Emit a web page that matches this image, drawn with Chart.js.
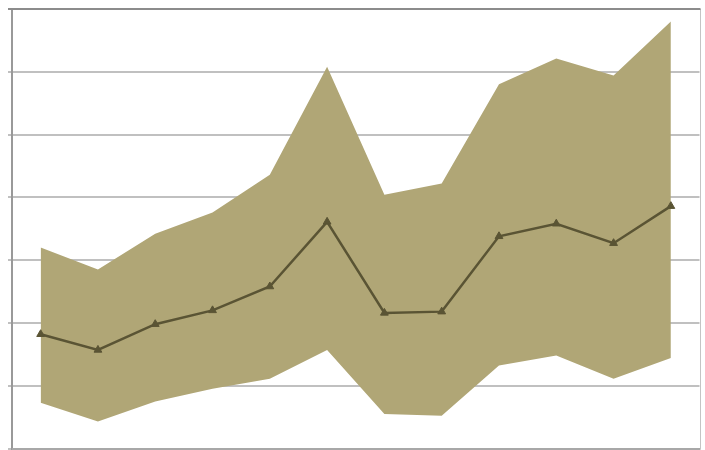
<!DOCTYPE html>
<html>
<head>
<meta charset="utf-8">
<script src="https://cdn.jsdelivr.net/npm/chart.js@4/dist/chart.umd.min.js"></script>
<style>
html,body{margin:0;padding:0;background:#fff;overflow:hidden;}
#wrap{width:705px;height:454px;position:relative;}
</style>
</head>
<body>
<div id="wrap"><canvas id="c"></canvas></div>
<script>
const categories = ["1","2","3","4","5","6","7","8","9","10","11","12"];
const upperValues = [3.20, 2.85, 3.42, 3.76, 4.36, 6.08, 4.04, 4.22, 5.80, 6.21, 5.94, 6.80];
const middleValues = [1.82, 1.57, 1.98, 2.20, 2.58, 3.61, 2.16, 2.18, 3.38, 3.58, 3.27, 3.86];
const lowerValues = [0.73, 0.43, 0.75, 0.95, 1.11, 1.57, 0.55, 0.52, 1.32, 1.48, 1.11, 1.44];

const frame = {
  id: 'frame',
  afterDraw(chart) {
    const a = chart.chartArea, ctx = chart.ctx;
    ctx.save();
    ctx.lineWidth = 1;
    ctx.strokeStyle = '#c4c4c4';
    ctx.beginPath();
    ctx.moveTo(Math.round(a.right) + 0.5, a.top);
    ctx.lineTo(Math.round(a.right) + 0.5, a.bottom);
    ctx.stroke();
    ctx.strokeStyle = '#8c8c8c';
    ctx.lineWidth = 2;
    ctx.beginPath();
    ctx.moveTo(a.left - 4, Math.round(a.top));
    ctx.lineTo(a.right + 1, Math.round(a.top));
    ctx.stroke();
    ctx.strokeStyle = '#a8a8a8';
    ctx.beginPath();
    ctx.moveTo(a.left, Math.round(a.bottom));
    ctx.lineTo(a.right + 1, Math.round(a.bottom));
    ctx.stroke();
    ctx.restore();
  }
};

new Chart(document.getElementById('c'), {
  type: 'line',
  data: {
    labels: categories,
    datasets: [
      {
        label: 'Middle',
        data: middleValues,
        borderColor: '#5a5434',
        backgroundColor: '#5a5434',
        borderWidth: 2.5,
        pointStyle: 'triangle',
        pointRadius: 4.5,
        pointBorderWidth: 1,
        tension: 0,
        fill: false,
        order: 0
      },
      {
        label: 'Upper',
        data: upperValues,
        borderWidth: 0,
        borderColor: 'rgba(0,0,0,0)',
        backgroundColor: '#b0a676',
        pointRadius: 0,
        tension: 0,
        fill: '+1',
        order: 1
      },
      {
        label: 'Lower',
        data: lowerValues,
        borderWidth: 0,
        borderColor: 'rgba(0,0,0,0)',
        backgroundColor: '#b0a676',
        pointRadius: 0,
        tension: 0,
        fill: false,
        order: 2
      }
    ]
  },
  options: {
    responsive: true,
    maintainAspectRatio: false,
    animation: false,
    layout: { padding: { left: 8, top: 9, right: 5, bottom: 0 } },
    plugins: { legend: { display: false }, tooltip: { enabled: false } },
    scales: {
      x: {
        display: false,
        offset: true
      },
      y: {
        min: 0, max: 7,
        ticks: { display: false, stepSize: 1 },
        grid: { color: '#c0c0c0', lineWidth: 2, tickLength: 4, drawTicks: true },
        border: { display: true, color: '#999999', width: 2 }
      }
    }
  },
  plugins: [frame]
});
</script>
</body>
</html>
